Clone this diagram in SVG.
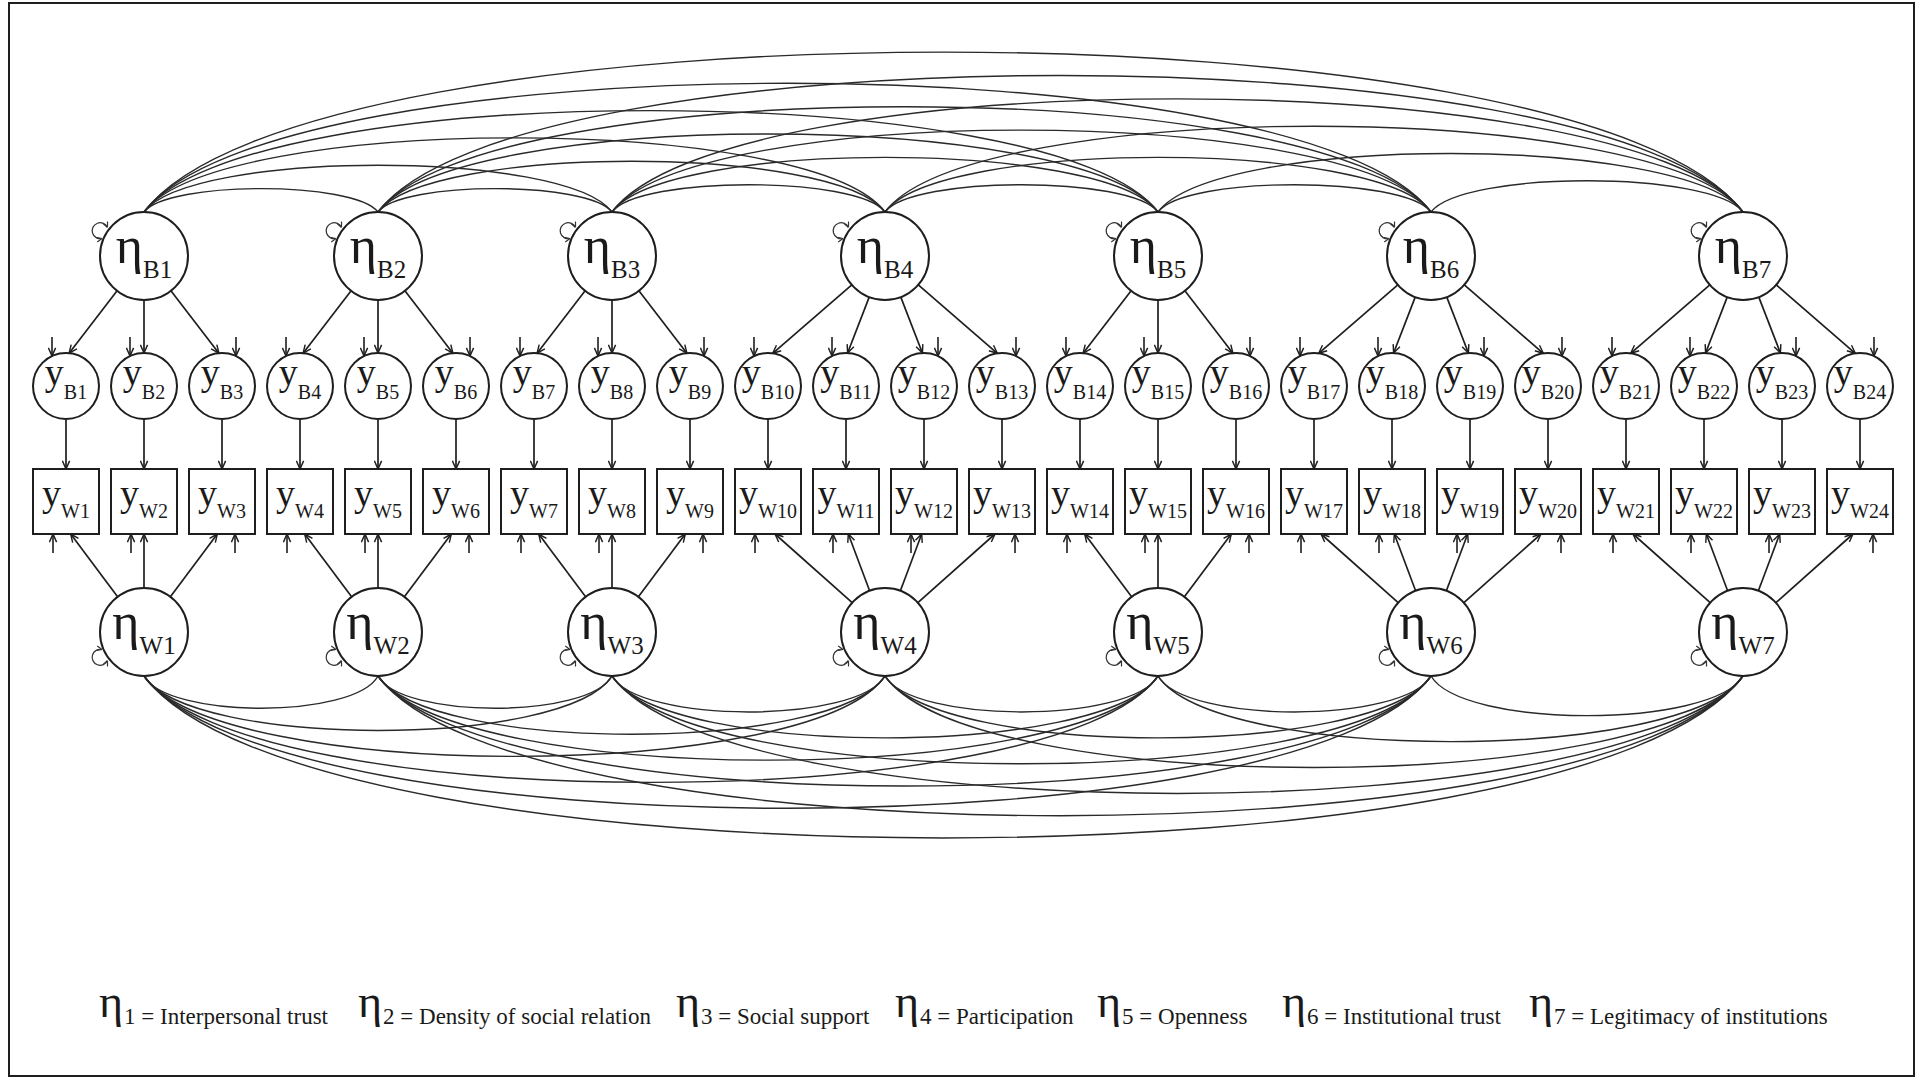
<svg xmlns="http://www.w3.org/2000/svg" width="1919" height="1080" viewBox="0 0 1919 1080">
<style>
.nd{fill:#fff;stroke:#1e1e1e;stroke-width:2}
.lbl{font-family:"Liberation Serif","DejaVu Serif","Noto Serif",Times,serif;text-anchor:middle;fill:#1a1a1a}
.eta{font-size:52px}
.sub{font-size:25px}
.yv{font-size:38px}
.ys{font-size:20px}
.ld{fill:none;stroke:#1e1e1e;stroke-width:1.7;marker-end:url(#ah)}
.er{fill:none;stroke:#1e1e1e;stroke-width:1.6;marker-end:url(#ah)}
.lp{fill:none;stroke:#333;stroke-width:1.2;marker-start:url(#sh);marker-end:url(#sh)}
.cv{fill:none;stroke:#2a2a2a;stroke-width:1.4}
.lg{font-family:"Liberation Serif","DejaVu Serif","Noto Serif",Times,serif;fill:#1a1a1a}
.lge{font-size:46px}
.lgt{font-size:23px}
</style>
<defs>
<marker id="ah" viewBox="0 0 10 10" refX="10" refY="5" markerWidth="9" markerHeight="9" markerUnits="userSpaceOnUse" orient="auto"><path d="M1,1 L10,5 L1,9" fill="none" stroke="#1e1e1e" stroke-width="1.6"/></marker>
<marker id="sh" viewBox="0 0 10 10" refX="10" refY="5" markerWidth="6" markerHeight="6" markerUnits="userSpaceOnUse" orient="auto-start-reverse"><path d="M1,1 L10,5 L1,9" fill="none" stroke="#333" stroke-width="2"/></marker>
</defs>
<rect x="0" y="0" width="1919" height="1080" fill="#fff"/>
<rect x="9" y="3" width="1905" height="1073" fill="none" stroke="#1e1e1e" stroke-width="2"/>

<g id="connectors">
<g id="cov-between">
<path class="cv" d="M144 212 C167.4 180.8 354.6 180.8 378 212"/>
<path class="cv" d="M144 212 C190.8 149.6 565.2 149.6 612 212"/>
<path class="cv" d="M144 212 C218.1 113.2 810.9 113.2 885 212"/>
<path class="cv" d="M144 212 C245.4 76.8 1056.6 76.8 1158 212"/>
<path class="cv" d="M144 212 C272.7 40.4 1302.3 40.4 1431 212"/>
<path class="cv" d="M144 212 C303.9 -1.2 1583.1 -1.2 1743 212"/>
<path class="cv" d="M378 212 C401.4 180.8 588.6 180.8 612 212"/>
<path class="cv" d="M378 212 C428.7 144.4 834.3 144.4 885 212"/>
<path class="cv" d="M378 212 C456 108 1080 108 1158 212"/>
<path class="cv" d="M378 212 C483.3 71.6 1325.7 71.6 1431 212"/>
<path class="cv" d="M378 212 C514.5 30 1606.5 30 1743 212"/>
<path class="cv" d="M612 212 C639.3 175.6 857.7 175.6 885 212"/>
<path class="cv" d="M612 212 C666.6 139.2 1103.4 139.2 1158 212"/>
<path class="cv" d="M612 212 C693.9 102.8 1349.1 102.8 1431 212"/>
<path class="cv" d="M612 212 C725.1 61.2 1629.9 61.2 1743 212"/>
<path class="cv" d="M885 212 C912.3 175.6 1130.7 175.6 1158 212"/>
<path class="cv" d="M885 212 C939.6 139.2 1376.4 139.2 1431 212"/>
<path class="cv" d="M885 212 C970.8 97.6 1657.2 97.6 1743 212"/>
<path class="cv" d="M1158 212 C1185.3 175.6 1403.7 175.6 1431 212"/>
<path class="cv" d="M1158 212 C1216.5 134 1684.5 134 1743 212"/>
<path class="cv" d="M1431 212 C1462.2 170.4 1711.8 170.4 1743 212"/>
</g>
<g id="cov-within">
<path class="cv" d="M144 676 C167.4 719 354.6 719 378 676"/>
<path class="cv" d="M144 676 C190.8 748.6 565.2 748.6 612 676"/>
<path class="cv" d="M144 676 C218.1 783.2 810.9 783.2 885 676"/>
<path class="cv" d="M144 676 C245.4 817.8 1056.6 817.8 1158 676"/>
<path class="cv" d="M144 676 C272.7 852.4 1302.3 852.4 1431 676"/>
<path class="cv" d="M144 676 C303.9 891.9 1583.1 891.9 1743 676"/>
<path class="cv" d="M378 676 C401.4 719 588.6 719 612 676"/>
<path class="cv" d="M378 676 C428.7 753.6 834.3 753.6 885 676"/>
<path class="cv" d="M378 676 C456 788.2 1080 788.2 1158 676"/>
<path class="cv" d="M378 676 C483.3 822.7 1325.7 822.7 1431 676"/>
<path class="cv" d="M378 676 C514.5 862.3 1606.5 862.3 1743 676"/>
<path class="cv" d="M612 676 C639.3 723.9 857.7 723.9 885 676"/>
<path class="cv" d="M612 676 C666.6 758.5 1103.4 758.5 1158 676"/>
<path class="cv" d="M612 676 C693.9 793.1 1349.1 793.1 1431 676"/>
<path class="cv" d="M612 676 C725.1 832.6 1629.9 832.6 1743 676"/>
<path class="cv" d="M885 676 C912.3 723.9 1130.7 723.9 1158 676"/>
<path class="cv" d="M885 676 C939.6 758.5 1376.4 758.5 1431 676"/>
<path class="cv" d="M885 676 C970.8 798 1657.2 798 1743 676"/>
<path class="cv" d="M1158 676 C1185.3 723.9 1403.7 723.9 1431 676"/>
<path class="cv" d="M1158 676 C1216.5 763.5 1684.5 763.5 1743 676"/>
<path class="cv" d="M1431 676 C1462.2 728.8 1711.8 728.8 1743 676"/>
</g>
<g id="loadings-between">
<path class="ld" d="M117.1 290.8 L69.1 353.2"/>
<path class="ld" d="M144 300 L144 353"/>
<path class="ld" d="M170.9 290.8 L218.9 353.2"/>
<path class="ld" d="M351.1 290.8 L303.1 353.2"/>
<path class="ld" d="M378 300 L378 353"/>
<path class="ld" d="M404.9 290.8 L452.9 353.2"/>
<path class="ld" d="M585.1 290.8 L537.1 353.2"/>
<path class="ld" d="M612 300 L612 353"/>
<path class="ld" d="M638.9 290.8 L686.9 353.2"/>
<path class="ld" d="M851.8 284.8 L772.7 353.3"/>
<path class="ld" d="M869.2 297.1 L847.6 353"/>
<path class="ld" d="M900.8 297.1 L922.4 353"/>
<path class="ld" d="M918.3 284.8 L997.3 353.3"/>
<path class="ld" d="M1131.1 290.8 L1083.1 353.2"/>
<path class="ld" d="M1158 300 L1158 353"/>
<path class="ld" d="M1184.9 290.8 L1232.9 353.2"/>
<path class="ld" d="M1397.8 284.8 L1318.7 353.3"/>
<path class="ld" d="M1415.2 297.1 L1393.6 353"/>
<path class="ld" d="M1446.8 297.1 L1468.4 353"/>
<path class="ld" d="M1464.3 284.8 L1543.3 353.3"/>
<path class="ld" d="M1709.8 284.8 L1630.7 353.3"/>
<path class="ld" d="M1727.2 297.1 L1705.6 353"/>
<path class="ld" d="M1758.8 297.1 L1780.4 353"/>
<path class="ld" d="M1776.3 284.8 L1855.3 353.3"/>
</g>
<g id="loadings-between-to-within">
<path class="ld" d="M66 419 L66 469"/>
<path class="ld" d="M144 419 L144 469"/>
<path class="ld" d="M222 419 L222 469"/>
<path class="ld" d="M300 419 L300 469"/>
<path class="ld" d="M378 419 L378 469"/>
<path class="ld" d="M456 419 L456 469"/>
<path class="ld" d="M534 419 L534 469"/>
<path class="ld" d="M612 419 L612 469"/>
<path class="ld" d="M690 419 L690 469"/>
<path class="ld" d="M768 419 L768 469"/>
<path class="ld" d="M846 419 L846 469"/>
<path class="ld" d="M924 419 L924 469"/>
<path class="ld" d="M1002 419 L1002 469"/>
<path class="ld" d="M1080 419 L1080 469"/>
<path class="ld" d="M1158 419 L1158 469"/>
<path class="ld" d="M1236 419 L1236 469"/>
<path class="ld" d="M1314 419 L1314 469"/>
<path class="ld" d="M1392 419 L1392 469"/>
<path class="ld" d="M1470 419 L1470 469"/>
<path class="ld" d="M1548 419 L1548 469"/>
<path class="ld" d="M1626 419 L1626 469"/>
<path class="ld" d="M1704 419 L1704 469"/>
<path class="ld" d="M1782 419 L1782 469"/>
<path class="ld" d="M1860 419 L1860 469"/>
</g>
<g id="loadings-within">
<path class="ld" d="M117.6 596.8 L70.7 534"/>
<path class="ld" d="M144 588 L144 534"/>
<path class="ld" d="M170.4 596.8 L217.3 534"/>
<path class="ld" d="M351.6 596.8 L304.7 534"/>
<path class="ld" d="M378 588 L378 534"/>
<path class="ld" d="M404.4 596.8 L451.3 534"/>
<path class="ld" d="M585.6 596.8 L538.7 534"/>
<path class="ld" d="M612 588 L612 534"/>
<path class="ld" d="M638.4 596.8 L685.3 534"/>
<path class="ld" d="M852.2 602.7 L775 534"/>
<path class="ld" d="M869.6 590.8 L848.3 534"/>
<path class="ld" d="M900.4 590.8 L921.7 534"/>
<path class="ld" d="M917.9 602.7 L995 534"/>
<path class="ld" d="M1131.6 596.8 L1084.7 534"/>
<path class="ld" d="M1158 588 L1158 534"/>
<path class="ld" d="M1184.4 596.8 L1231.3 534"/>
<path class="ld" d="M1398.2 602.7 L1321 534"/>
<path class="ld" d="M1415.6 590.8 L1394.3 534"/>
<path class="ld" d="M1446.4 590.8 L1467.7 534"/>
<path class="ld" d="M1463.9 602.7 L1541 534"/>
<path class="ld" d="M1710.2 602.7 L1633 534"/>
<path class="ld" d="M1727.6 590.8 L1706.3 534"/>
<path class="ld" d="M1758.4 590.8 L1779.7 534"/>
<path class="ld" d="M1775.9 602.7 L1853 534"/>
</g>
<g id="errors-between">
<path class="er" d="M52 337 L52 356"/>
<path class="er" d="M130 337 L130 356"/>
<path class="er" d="M236 337 L236 356"/>
<path class="er" d="M286 337 L286 356"/>
<path class="er" d="M364 337 L364 356"/>
<path class="er" d="M470 337 L470 356"/>
<path class="er" d="M520 337 L520 356"/>
<path class="er" d="M598 337 L598 356"/>
<path class="er" d="M704 337 L704 356"/>
<path class="er" d="M754 337 L754 356"/>
<path class="er" d="M832 337 L832 356"/>
<path class="er" d="M938 337 L938 356"/>
<path class="er" d="M1016 337 L1016 356"/>
<path class="er" d="M1066 337 L1066 356"/>
<path class="er" d="M1144 337 L1144 356"/>
<path class="er" d="M1250 337 L1250 356"/>
<path class="er" d="M1300 337 L1300 356"/>
<path class="er" d="M1378 337 L1378 356"/>
<path class="er" d="M1484 337 L1484 356"/>
<path class="er" d="M1562 337 L1562 356"/>
<path class="er" d="M1612 337 L1612 356"/>
<path class="er" d="M1690 337 L1690 356"/>
<path class="er" d="M1796 337 L1796 356"/>
<path class="er" d="M1874 337 L1874 356"/>
</g>
<g id="errors-within">
<path class="er" d="M53 553 L53 534"/>
<path class="er" d="M131 553 L131 534"/>
<path class="er" d="M235 553 L235 534"/>
<path class="er" d="M287 553 L287 534"/>
<path class="er" d="M365 553 L365 534"/>
<path class="er" d="M469 553 L469 534"/>
<path class="er" d="M521 553 L521 534"/>
<path class="er" d="M599 553 L599 534"/>
<path class="er" d="M703 553 L703 534"/>
<path class="er" d="M755 553 L755 534"/>
<path class="er" d="M833 553 L833 534"/>
<path class="er" d="M911 553 L911 534"/>
<path class="er" d="M1015 553 L1015 534"/>
<path class="er" d="M1067 553 L1067 534"/>
<path class="er" d="M1145 553 L1145 534"/>
<path class="er" d="M1249 553 L1249 534"/>
<path class="er" d="M1301 553 L1301 534"/>
<path class="er" d="M1379 553 L1379 534"/>
<path class="er" d="M1457 553 L1457 534"/>
<path class="er" d="M1561 553 L1561 534"/>
<path class="er" d="M1613 553 L1613 534"/>
<path class="er" d="M1691 553 L1691 534"/>
<path class="er" d="M1769 553 L1769 534"/>
<path class="er" d="M1873 553 L1873 534"/>
</g>
<g id="variances">
<path class="lp" d="M107.5 227.5 A8 8 0 1 0 102 238.5"/>
<path class="lp" d="M341.5 227.5 A8 8 0 1 0 336 238.5"/>
<path class="lp" d="M575.5 227.5 A8 8 0 1 0 570 238.5"/>
<path class="lp" d="M848.5 227.5 A8 8 0 1 0 843 238.5"/>
<path class="lp" d="M1121.5 227.5 A8 8 0 1 0 1116 238.5"/>
<path class="lp" d="M1394.5 227.5 A8 8 0 1 0 1389 238.5"/>
<path class="lp" d="M1706.5 227.5 A8 8 0 1 0 1701 238.5"/>
<path class="lp" d="M107.5 660.5 A8 8 0 1 1 102 649.5"/>
<path class="lp" d="M341.5 660.5 A8 8 0 1 1 336 649.5"/>
<path class="lp" d="M575.5 660.5 A8 8 0 1 1 570 649.5"/>
<path class="lp" d="M848.5 660.5 A8 8 0 1 1 843 649.5"/>
<path class="lp" d="M1121.5 660.5 A8 8 0 1 1 1116 649.5"/>
<path class="lp" d="M1394.5 660.5 A8 8 0 1 1 1389 649.5"/>
<path class="lp" d="M1706.5 660.5 A8 8 0 1 1 1701 649.5"/>
</g>
</g>

<g id="eta-between">
<g id="etaB1"><circle class="nd" cx="144" cy="256" r="44"/><text class="lbl" x="144" y="263"><tspan class="eta">η</tspan><tspan class="sub" dy="15">B1</tspan></text></g>
<g id="etaB2"><circle class="nd" cx="378" cy="256" r="44"/><text class="lbl" x="378" y="263"><tspan class="eta">η</tspan><tspan class="sub" dy="15">B2</tspan></text></g>
<g id="etaB3"><circle class="nd" cx="612" cy="256" r="44"/><text class="lbl" x="612" y="263"><tspan class="eta">η</tspan><tspan class="sub" dy="15">B3</tspan></text></g>
<g id="etaB4"><circle class="nd" cx="885" cy="256" r="44"/><text class="lbl" x="885" y="263"><tspan class="eta">η</tspan><tspan class="sub" dy="15">B4</tspan></text></g>
<g id="etaB5"><circle class="nd" cx="1158" cy="256" r="44"/><text class="lbl" x="1158" y="263"><tspan class="eta">η</tspan><tspan class="sub" dy="15">B5</tspan></text></g>
<g id="etaB6"><circle class="nd" cx="1431" cy="256" r="44"/><text class="lbl" x="1431" y="263"><tspan class="eta">η</tspan><tspan class="sub" dy="15">B6</tspan></text></g>
<g id="etaB7"><circle class="nd" cx="1743" cy="256" r="44"/><text class="lbl" x="1743" y="263"><tspan class="eta">η</tspan><tspan class="sub" dy="15">B7</tspan></text></g>
</g>

<g id="eta-within">
<g id="etaW1"><circle class="nd" cx="144" cy="632" r="44"/><text class="lbl" x="144" y="639"><tspan class="eta">η</tspan><tspan class="sub" dy="15">W1</tspan></text></g>
<g id="etaW2"><circle class="nd" cx="378" cy="632" r="44"/><text class="lbl" x="378" y="639"><tspan class="eta">η</tspan><tspan class="sub" dy="15">W2</tspan></text></g>
<g id="etaW3"><circle class="nd" cx="612" cy="632" r="44"/><text class="lbl" x="612" y="639"><tspan class="eta">η</tspan><tspan class="sub" dy="15">W3</tspan></text></g>
<g id="etaW4"><circle class="nd" cx="885" cy="632" r="44"/><text class="lbl" x="885" y="639"><tspan class="eta">η</tspan><tspan class="sub" dy="15">W4</tspan></text></g>
<g id="etaW5"><circle class="nd" cx="1158" cy="632" r="44"/><text class="lbl" x="1158" y="639"><tspan class="eta">η</tspan><tspan class="sub" dy="15">W5</tspan></text></g>
<g id="etaW6"><circle class="nd" cx="1431" cy="632" r="44"/><text class="lbl" x="1431" y="639"><tspan class="eta">η</tspan><tspan class="sub" dy="15">W6</tspan></text></g>
<g id="etaW7"><circle class="nd" cx="1743" cy="632" r="44"/><text class="lbl" x="1743" y="639"><tspan class="eta">η</tspan><tspan class="sub" dy="15">W7</tspan></text></g>
</g>

<g id="y-between">
<g id="yB1"><circle class="nd" cx="66" cy="386" r="33"/><text class="lbl" x="66" y="385"><tspan class="yv">y</tspan><tspan class="ys" dy="14">B1</tspan></text></g>
<g id="yB2"><circle class="nd" cx="144" cy="386" r="33"/><text class="lbl" x="144" y="385"><tspan class="yv">y</tspan><tspan class="ys" dy="14">B2</tspan></text></g>
<g id="yB3"><circle class="nd" cx="222" cy="386" r="33"/><text class="lbl" x="222" y="385"><tspan class="yv">y</tspan><tspan class="ys" dy="14">B3</tspan></text></g>
<g id="yB4"><circle class="nd" cx="300" cy="386" r="33"/><text class="lbl" x="300" y="385"><tspan class="yv">y</tspan><tspan class="ys" dy="14">B4</tspan></text></g>
<g id="yB5"><circle class="nd" cx="378" cy="386" r="33"/><text class="lbl" x="378" y="385"><tspan class="yv">y</tspan><tspan class="ys" dy="14">B5</tspan></text></g>
<g id="yB6"><circle class="nd" cx="456" cy="386" r="33"/><text class="lbl" x="456" y="385"><tspan class="yv">y</tspan><tspan class="ys" dy="14">B6</tspan></text></g>
<g id="yB7"><circle class="nd" cx="534" cy="386" r="33"/><text class="lbl" x="534" y="385"><tspan class="yv">y</tspan><tspan class="ys" dy="14">B7</tspan></text></g>
<g id="yB8"><circle class="nd" cx="612" cy="386" r="33"/><text class="lbl" x="612" y="385"><tspan class="yv">y</tspan><tspan class="ys" dy="14">B8</tspan></text></g>
<g id="yB9"><circle class="nd" cx="690" cy="386" r="33"/><text class="lbl" x="690" y="385"><tspan class="yv">y</tspan><tspan class="ys" dy="14">B9</tspan></text></g>
<g id="yB10"><circle class="nd" cx="768" cy="386" r="33"/><text class="lbl" x="768" y="385"><tspan class="yv">y</tspan><tspan class="ys" dy="14">B10</tspan></text></g>
<g id="yB11"><circle class="nd" cx="846" cy="386" r="33"/><text class="lbl" x="846" y="385"><tspan class="yv">y</tspan><tspan class="ys" dy="14">B11</tspan></text></g>
<g id="yB12"><circle class="nd" cx="924" cy="386" r="33"/><text class="lbl" x="924" y="385"><tspan class="yv">y</tspan><tspan class="ys" dy="14">B12</tspan></text></g>
<g id="yB13"><circle class="nd" cx="1002" cy="386" r="33"/><text class="lbl" x="1002" y="385"><tspan class="yv">y</tspan><tspan class="ys" dy="14">B13</tspan></text></g>
<g id="yB14"><circle class="nd" cx="1080" cy="386" r="33"/><text class="lbl" x="1080" y="385"><tspan class="yv">y</tspan><tspan class="ys" dy="14">B14</tspan></text></g>
<g id="yB15"><circle class="nd" cx="1158" cy="386" r="33"/><text class="lbl" x="1158" y="385"><tspan class="yv">y</tspan><tspan class="ys" dy="14">B15</tspan></text></g>
<g id="yB16"><circle class="nd" cx="1236" cy="386" r="33"/><text class="lbl" x="1236" y="385"><tspan class="yv">y</tspan><tspan class="ys" dy="14">B16</tspan></text></g>
<g id="yB17"><circle class="nd" cx="1314" cy="386" r="33"/><text class="lbl" x="1314" y="385"><tspan class="yv">y</tspan><tspan class="ys" dy="14">B17</tspan></text></g>
<g id="yB18"><circle class="nd" cx="1392" cy="386" r="33"/><text class="lbl" x="1392" y="385"><tspan class="yv">y</tspan><tspan class="ys" dy="14">B18</tspan></text></g>
<g id="yB19"><circle class="nd" cx="1470" cy="386" r="33"/><text class="lbl" x="1470" y="385"><tspan class="yv">y</tspan><tspan class="ys" dy="14">B19</tspan></text></g>
<g id="yB20"><circle class="nd" cx="1548" cy="386" r="33"/><text class="lbl" x="1548" y="385"><tspan class="yv">y</tspan><tspan class="ys" dy="14">B20</tspan></text></g>
<g id="yB21"><circle class="nd" cx="1626" cy="386" r="33"/><text class="lbl" x="1626" y="385"><tspan class="yv">y</tspan><tspan class="ys" dy="14">B21</tspan></text></g>
<g id="yB22"><circle class="nd" cx="1704" cy="386" r="33"/><text class="lbl" x="1704" y="385"><tspan class="yv">y</tspan><tspan class="ys" dy="14">B22</tspan></text></g>
<g id="yB23"><circle class="nd" cx="1782" cy="386" r="33"/><text class="lbl" x="1782" y="385"><tspan class="yv">y</tspan><tspan class="ys" dy="14">B23</tspan></text></g>
<g id="yB24"><circle class="nd" cx="1860" cy="386" r="33"/><text class="lbl" x="1860" y="385"><tspan class="yv">y</tspan><tspan class="ys" dy="14">B24</tspan></text></g>
</g>

<g id="y-within">
<g id="yW1"><rect class="nd" x="33" y="469" width="66" height="65"/><text class="lbl" x="66" y="506"><tspan class="yv">y</tspan><tspan class="ys" dy="12">W1</tspan></text></g>
<g id="yW2"><rect class="nd" x="111" y="469" width="66" height="65"/><text class="lbl" x="144" y="506"><tspan class="yv">y</tspan><tspan class="ys" dy="12">W2</tspan></text></g>
<g id="yW3"><rect class="nd" x="189" y="469" width="66" height="65"/><text class="lbl" x="222" y="506"><tspan class="yv">y</tspan><tspan class="ys" dy="12">W3</tspan></text></g>
<g id="yW4"><rect class="nd" x="267" y="469" width="66" height="65"/><text class="lbl" x="300" y="506"><tspan class="yv">y</tspan><tspan class="ys" dy="12">W4</tspan></text></g>
<g id="yW5"><rect class="nd" x="345" y="469" width="66" height="65"/><text class="lbl" x="378" y="506"><tspan class="yv">y</tspan><tspan class="ys" dy="12">W5</tspan></text></g>
<g id="yW6"><rect class="nd" x="423" y="469" width="66" height="65"/><text class="lbl" x="456" y="506"><tspan class="yv">y</tspan><tspan class="ys" dy="12">W6</tspan></text></g>
<g id="yW7"><rect class="nd" x="501" y="469" width="66" height="65"/><text class="lbl" x="534" y="506"><tspan class="yv">y</tspan><tspan class="ys" dy="12">W7</tspan></text></g>
<g id="yW8"><rect class="nd" x="579" y="469" width="66" height="65"/><text class="lbl" x="612" y="506"><tspan class="yv">y</tspan><tspan class="ys" dy="12">W8</tspan></text></g>
<g id="yW9"><rect class="nd" x="657" y="469" width="66" height="65"/><text class="lbl" x="690" y="506"><tspan class="yv">y</tspan><tspan class="ys" dy="12">W9</tspan></text></g>
<g id="yW10"><rect class="nd" x="735" y="469" width="66" height="65"/><text class="lbl" x="768" y="506"><tspan class="yv">y</tspan><tspan class="ys" dy="12">W10</tspan></text></g>
<g id="yW11"><rect class="nd" x="813" y="469" width="66" height="65"/><text class="lbl" x="846" y="506"><tspan class="yv">y</tspan><tspan class="ys" dy="12">W11</tspan></text></g>
<g id="yW12"><rect class="nd" x="891" y="469" width="66" height="65"/><text class="lbl" x="924" y="506"><tspan class="yv">y</tspan><tspan class="ys" dy="12">W12</tspan></text></g>
<g id="yW13"><rect class="nd" x="969" y="469" width="66" height="65"/><text class="lbl" x="1002" y="506"><tspan class="yv">y</tspan><tspan class="ys" dy="12">W13</tspan></text></g>
<g id="yW14"><rect class="nd" x="1047" y="469" width="66" height="65"/><text class="lbl" x="1080" y="506"><tspan class="yv">y</tspan><tspan class="ys" dy="12">W14</tspan></text></g>
<g id="yW15"><rect class="nd" x="1125" y="469" width="66" height="65"/><text class="lbl" x="1158" y="506"><tspan class="yv">y</tspan><tspan class="ys" dy="12">W15</tspan></text></g>
<g id="yW16"><rect class="nd" x="1203" y="469" width="66" height="65"/><text class="lbl" x="1236" y="506"><tspan class="yv">y</tspan><tspan class="ys" dy="12">W16</tspan></text></g>
<g id="yW17"><rect class="nd" x="1281" y="469" width="66" height="65"/><text class="lbl" x="1314" y="506"><tspan class="yv">y</tspan><tspan class="ys" dy="12">W17</tspan></text></g>
<g id="yW18"><rect class="nd" x="1359" y="469" width="66" height="65"/><text class="lbl" x="1392" y="506"><tspan class="yv">y</tspan><tspan class="ys" dy="12">W18</tspan></text></g>
<g id="yW19"><rect class="nd" x="1437" y="469" width="66" height="65"/><text class="lbl" x="1470" y="506"><tspan class="yv">y</tspan><tspan class="ys" dy="12">W19</tspan></text></g>
<g id="yW20"><rect class="nd" x="1515" y="469" width="66" height="65"/><text class="lbl" x="1548" y="506"><tspan class="yv">y</tspan><tspan class="ys" dy="12">W20</tspan></text></g>
<g id="yW21"><rect class="nd" x="1593" y="469" width="66" height="65"/><text class="lbl" x="1626" y="506"><tspan class="yv">y</tspan><tspan class="ys" dy="12">W21</tspan></text></g>
<g id="yW22"><rect class="nd" x="1671" y="469" width="66" height="65"/><text class="lbl" x="1704" y="506"><tspan class="yv">y</tspan><tspan class="ys" dy="12">W22</tspan></text></g>
<g id="yW23"><rect class="nd" x="1749" y="469" width="66" height="65"/><text class="lbl" x="1782" y="506"><tspan class="yv">y</tspan><tspan class="ys" dy="12">W23</tspan></text></g>
<g id="yW24"><rect class="nd" x="1827" y="469" width="66" height="65"/><text class="lbl" x="1860" y="506"><tspan class="yv">y</tspan><tspan class="ys" dy="12">W24</tspan></text></g>
</g>

<g id="legend" class="lg">
<text x="99" y="1017"><tspan class="lge">η</tspan><tspan class="lgt" dx="1" dy="7">1 = Interpersonal trust</tspan></text>
<text x="358" y="1017"><tspan class="lge">η</tspan><tspan class="lgt" dx="1" dy="7">2 = Density of social relation</tspan></text>
<text x="676" y="1017"><tspan class="lge">η</tspan><tspan class="lgt" dx="1" dy="7">3 = Social support</tspan></text>
<text x="895" y="1017"><tspan class="lge">η</tspan><tspan class="lgt" dx="1" dy="7">4 = Participation</tspan></text>
<text x="1097" y="1017"><tspan class="lge">η</tspan><tspan class="lgt" dx="1" dy="7">5 = Openness</tspan></text>
<text x="1282" y="1017"><tspan class="lge">η</tspan><tspan class="lgt" dx="1" dy="7">6 = Institutional trust</tspan></text>
<text x="1529" y="1017"><tspan class="lge">η</tspan><tspan class="lgt" dx="1" dy="7">7 = Legitimacy of institutions</tspan></text>
</g>
</svg>
